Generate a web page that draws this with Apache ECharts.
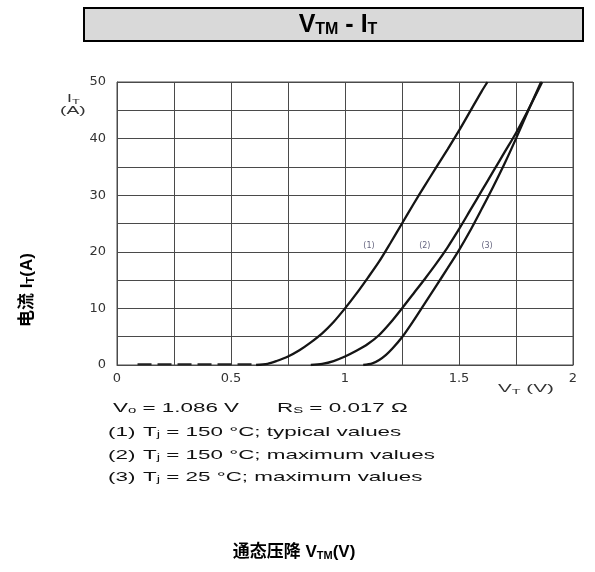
<!DOCTYPE html>
<html><head><meta charset="utf-8">
<script src="https://cdn.jsdelivr.net/npm/echarts@6/dist/echarts.min.js"></script>
<style>html,body{margin:0;padding:0;background:#fff}#c{width:595px;height:572px}</style>
</head><body><div id="c"></div>
<script>
// ---- data ----
const xTickLabels = ['0', '0.5', '1', '1.5', '2'];
const yTickLabels = ['0', '10', '20', '30', '40', '50'];
const seriesNames = ['(1)', '(2)', '(3)'];
const curve1 = [[0.61,0],[0.66,0.2],[0.70,0.7],[0.75,1.5],[0.80,2.6],[0.85,4.0],[0.90,5.6],[0.95,7.6],[1.00,10],[1.05,12.6],[1.10,15.4],[1.15,18.3],[1.20,21.6],[1.25,25],[1.30,28.4],[1.35,31.7],[1.40,34.9],[1.45,38.1],[1.50,41.4],[1.55,44.9],[1.60,48.4],[1.625,50]];
const curve2 = [[0.85,0],[0.90,0.2],[0.95,0.7],[1.00,1.5],[1.05,2.5],[1.10,3.7],[1.15,5.3],[1.20,7.5],[1.25,10],[1.30,12.6],[1.35,15.2],[1.40,17.9],[1.45,20.8],[1.50,24.0],[1.55,27.4],[1.60,30.8],[1.65,34.2],[1.70,37.6],[1.75,41.0],[1.80,44.8],[1.865,50]];
const curve3 = [[1.08,0],[1.12,0.3],[1.15,0.9],[1.18,1.8],[1.21,3.0],[1.25,4.9],[1.30,7.8],[1.35,10.9],[1.40,14.0],[1.45,17.1],[1.50,20.3],[1.55,23.8],[1.60,27.6],[1.65,31.5],[1.70,35.6],[1.75,40.0],[1.80,44.6],[1.86,50]];
const offStateDashed = [[0.09,0.15],[0.61,0.15]];
const curveLabelPos = [[1.105,21.0],[1.35,21.0],[1.623,21.0]];
const noteLines = [
  '{n|V}{s|o}{n| = 1.086 V}',
  '{n|(1)}',
  '{n|(2)}',
  '{n|(3)}'
];
const noteRs = '{n|R}{s|S}{n| = 0.017 Ω}';
const legendTexts = [
  '{n|T}{s|j}{n| = 150 °C; typical values}',
  '{n|T}{s|j}{n| = 150 °C; maximum values}',
  '{n|T}{s|j}{n| = 25 °C; maximum values}'
];

const chart = echarts.init(document.getElementById('c'), null, {renderer:'canvas'});
const FONT = '"Liberation Sans", Arial, sans-serif';
const CJK = '"Liberation Sans", Arial, "Noto Sans CJK SC", sans-serif';
const gridColor = '#4a4a4a';
const curveStyle = {color:'#151515', width:2.3};
const SX = 1.66;

const noteRich = {
  n:{fontFamily:FONT, fontSize:13.5, fill:'#111'},
  s:{fontFamily:FONT, fontSize:9, fill:'#111', padding:[6,0,0,0]}
};

const graphics = [
  {type:'rect', shape:{x:84, y:8, width:499, height:33}, style:{fill:'#d9d9d9', stroke:'#000', lineWidth:2}},
  {type:'text', x:338, y:25, style:{
    text:'{b|V}{bs|TM}{b| - I}{bs|T}', textAlign:'center', textVerticalAlign:'middle',
    rich:{b:{fontFamily:FONT, fontWeight:'bold', fontSize:25, fill:'#000'},
          bs:{fontFamily:FONT, fontWeight:'bold', fontSize:16, fill:'#000', padding:[10,0,0,0]}}}},
  {type:'text', x:67, y:99, scaleX:1.6, style:{text:'{n|I}{s|T}', textVerticalAlign:'middle',
    rich:{n:{fontFamily:FONT, fontSize:11, fill:'#333'}, s:{fontFamily:FONT, fontSize:8, fill:'#333', padding:[5,0,0,0]}}}},
  {type:'text', x:60, y:111, scaleX:1.75, style:{text:'(A)', font:'11px '+FONT, fill:'#333', textVerticalAlign:'middle'}},
  {type:'text', x:498, y:389, scaleX:1.8, style:{text:'{n|V}{s|T}{n| (V)}', textVerticalAlign:'middle',
    rich:{n:{fontFamily:FONT, fontSize:11.5, fill:'#333'}, s:{fontFamily:FONT, fontSize:8, fill:'#333', padding:[5,0,0,0]}}}},
  {type:'text', x:113, y:408, scaleX:SX, style:{text:noteLines[0], textVerticalAlign:'middle', rich:noteRich}},
  {type:'text', x:277, y:408, scaleX:SX, style:{text:noteRs, textVerticalAlign:'middle', rich:noteRich}},
  {type:'text', x:108, y:432, scaleX:SX, style:{text:noteLines[1], textVerticalAlign:'middle', rich:noteRich}},
  {type:'text', x:143, y:432, scaleX:SX, style:{text:legendTexts[0], textVerticalAlign:'middle', rich:noteRich}},
  {type:'text', x:108, y:455, scaleX:SX, style:{text:noteLines[2], textVerticalAlign:'middle', rich:noteRich}},
  {type:'text', x:143, y:455, scaleX:SX, style:{text:legendTexts[1], textVerticalAlign:'middle', rich:noteRich}},
  {type:'text', x:108, y:477, scaleX:SX, style:{text:noteLines[3], textVerticalAlign:'middle', rich:noteRich}},
  {type:'text', x:143, y:477, scaleX:SX, style:{text:legendTexts[2], textVerticalAlign:'middle', rich:noteRich}},
  {type:'text', x:27, y:290, rotation:Math.PI/2, style:{
    text:'{c|电流 I}{cs|T}{c|(A)}', textAlign:'center', textVerticalAlign:'middle',
    rich:{c:{fontFamily:CJK, fontWeight:'bold', fontSize:17, fill:'#000'},
          cs:{fontFamily:CJK, fontWeight:'bold', fontSize:11, fill:'#000', padding:[7,0,0,0]}}}},
  {type:'text', x:294, y:552, style:{
    text:'{c|通态压降 V}{cs|TM}{c|(V)}', textAlign:'center', textVerticalAlign:'middle',
    rich:{c:{fontFamily:CJK, fontWeight:'bold', fontSize:17, fill:'#000'},
          cs:{fontFamily:CJK, fontWeight:'bold', fontSize:11, fill:'#000', padding:[7,0,0,0]}}}}
];

const fmtX = v => { const s = String(+Number(v).toFixed(2)); return xTickLabels.includes(s) ? s : ''; };
const fmtY = v => { const s = String(+Number(v).toFixed(2)); return yTickLabels.includes(s) ? s : ''; };

const curveSeries = [curve1, curve2, curve3].map((d, i) => ({
  name: seriesNames[i], type:'line', data:d, showSymbol:false, smooth:0.3,
  lineStyle:curveStyle, z:5, silent:true
}));

chart.setOption({
  animation:false,
  backgroundColor:'#fff',
  grid:{left:117, top:82, width:456, height:283, show:true, borderColor:gridColor, borderWidth:1, containLabel:false},
  xAxis:{type:'value', min:0, max:2, interval:0.25,
    axisLine:{show:true, lineStyle:{color:gridColor, width:1}}, axisTick:{show:false},
    splitLine:{show:true, lineStyle:{color:gridColor, width:1}},
    axisLabel:{formatter:fmtX, margin:7, color:'#333', fontFamily:'"DejaVu Sans", sans-serif', fontSize:13, showMaxLabel:true, showMinLabel:true}},
  yAxis:{type:'value', min:0, max:50, interval:5,
    axisLine:{show:true, lineStyle:{color:gridColor, width:1}}, axisTick:{show:false},
    splitLine:{show:true, lineStyle:{color:gridColor, width:1}},
    axisLabel:{formatter:fmtY, margin:11, color:'#333', fontFamily:'"DejaVu Sans", sans-serif', fontSize:13}},
  series:[
    ...curveSeries,
    {name:'off', type:'line', data:offStateDashed, showSymbol:false, lineStyle:{color:'#222', width:2, type:[14,6]}, z:4, silent:true},
    {name:'labels', type:'scatter', symbolSize:0, silent:true, z:6,
      data:curveLabelPos.map((p,i)=>({value:p, name:seriesNames[i]})),
      label:{show:true, position:'inside', formatter:'{b}', color:'#3b3b5c', fontFamily:'"DejaVu Sans", sans-serif', fontSize:8}}
  ],
  graphic:graphics
});
</script></body></html>
